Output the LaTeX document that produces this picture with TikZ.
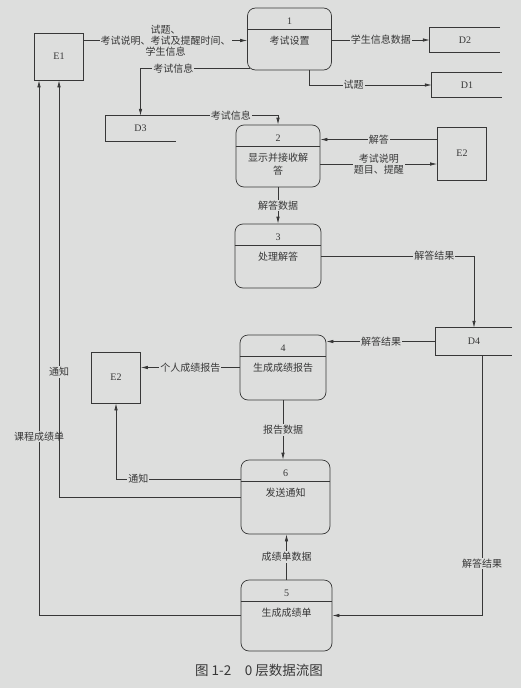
\documentclass[tikz,border=0pt]{standalone}
\usepackage{fontspec}
\setmainfont{Liberation Serif}
\newfontfamily\cjk{Noto Sans CJK SC}
\usepackage{tikz}
\usetikzlibrary{arrows.meta, positioning}

\definecolor{paper}{RGB}{221,222,221}
\definecolor{ink}{RGB}{55,55,55}

\tikzset{
    rule/.style={draw=ink, line width=0.7pt},
    procbox/.style={rule, rounded corners=8pt, minimum width=86pt, minimum height=64pt, inner sep=0pt},
    numtext/.style={font=\fontsize{10}{11}\selectfont, text=ink, inner sep=0pt},
    proctext/.style={font=\cjk\fontsize{10}{13}\selectfont, text=ink, align=center, inner sep=1pt},
    entity/.style={rule, minimum width=49pt, minimum height=49pt, font=\fontsize{10}{11}\selectfont, text=ink},
    storebox/.style={minimum width=70pt, minimum height=25pt, font=\fontsize{10}{11}\selectfont, text=ink},
    flow/.style={rule, -{Latex[length=7pt,width=3.5pt]}},
    lbl/.style={font=\cjk\fontsize{10}{11}\selectfont, text=ink, fill=paper, inner sep=1pt, align=center},
    caption/.style={font=\cjk\fontsize{13.5}{15}\selectfont, text=ink}
}

\newcommand{\procnode}[5][]{%
    \node[procbox, #1] (#2) at (#3) {};
    \node[numtext] at ([yshift=-14pt]#2.north) {#4};
    \draw[rule] ([yshift=-22pt]#2.north west) -- ([yshift=-22pt]#2.north east);
    \node[proctext, anchor=north] at ([yshift=-27pt]#2.north) {#5};
}
\newcommand{\storenode}[4][]{%
    \node[storebox, #1] (#2) at (#3) {#4};
    \draw[rule] (#2.north east) -- (#2.north west) -- (#2.south west) -- (#2.south east);
}

\begin{document}
\begin{tikzpicture}[x=1pt, y=-1pt]
    \fill[paper] (0,0) rectangle (521,688);

    \node[entity, minimum height=47pt] (E1) at (59,56.5) {E1};
    \node[entity, minimum height=53pt] (E2r) at (462,153.5) {E2};
    \node[entity, minimum height=51pt] (E2l) at (116,377.5) {E2};

    \procnode[minimum width=84pt, minimum height=62pt]{P1}{289.5,39}{1}{考试设置}
    \procnode[minimum width=84pt, minimum height=62pt]{P2}{278,156}{2}{显示并接收解\\答}
    \procnode{P3}{278,256}{3}{处理解答}
    \procnode[minimum height=65pt]{P4}{283,367.5}{4}{生成成绩报告}
    \procnode[minimum width=89pt, minimum height=74pt]{P6}{285.5,497}{6}{发送通知}
    \procnode[minimum width=91pt, minimum height=71pt]{P5}{286.5,615.5}{5}{生成成绩单}

    \storenode{D2}{465,40}{D2}
    \storenode{D1}{467,85}{D1}
    \storenode{D3}{140.5,128.5}{D3}
    \storenode[minimum width=76pt, minimum height=27pt]{D4}{474,341.5}{D4}

    \coordinate (e1out) at ([yshift=16pt]E1.east);
    \coordinate (p1out) at ([xshift=3pt, yshift=2pt]P1.south west);
    \coordinate (e2in) at ([yshift=14pt]E2r.west);
    \coordinate (p2out) at ([yshift=-8pt]P2.east);
    \coordinate (p6out) at ([yshift=18pt]P6.west);

    \draw[flow] (e1out) -- node[lbl]{试题、\\考试说明、考试及提醒时间、\\学生信息} (e1out -| P1.west);
    \draw[flow] (D2.west -| P1.east) -- node[lbl]{学生信息数据} (D2.west);
    \draw[flow] ([xshift=20pt]P1.south) |- node[lbl, pos=0.68]{试题} (D1.west);
    \draw[flow] (p1out) -| node[lbl, pos=0.35]{考试信息} (D3.north);
    \draw[flow] (D3.north east) -| node[lbl, pos=0.27]{考试信息} (P2.north);
    \draw[flow] (e2in) -- node[lbl]{解答} (e2in -| P2.east);
    \draw[flow] (p2out) -- node[lbl]{考试说明\\题目、提醒} (p2out -| E2r.west);
    \draw[flow] (P2.south) -- node[lbl]{解答数据} (P3.north);
    \draw[flow] (P3.east) -| node[lbl, pos=0.37]{解答结果} (D4.north);
    \draw[flow] (D4.west) -- node[lbl]{解答结果} (D4.west -| P4.east);
    \draw[flow] (P4.west) -- node[lbl]{个人成绩报告} (P4.west -| E2l.east);
    \draw[flow] (P4.south) -- node[lbl]{报告数据} (P4.south |- P6.north);
    \draw[flow] (p6out) -| node[lbl, pos=0.41]{通知} (E2l.south);
    \draw[flow] (P5.west) -| node[lbl, pos=0.667]{课程成绩单} ([xshift=-20pt]E1.south);
    \draw[flow] (P6.west) -| node[lbl, pos=0.65]{通知} (E1.south);
    \draw[flow] (P5.north) -- node[lbl]{成绩单数据} (P5.north |- P6.south);
    \draw[flow] ([xshift=8pt]D4.south) |- node[lbl, pos=0.4]{解答结果} (P5.east);

    \node[caption] (cap) at (259,670) {图 1-2\quad 0 层数据流图};
\end{tikzpicture}
\end{document}
